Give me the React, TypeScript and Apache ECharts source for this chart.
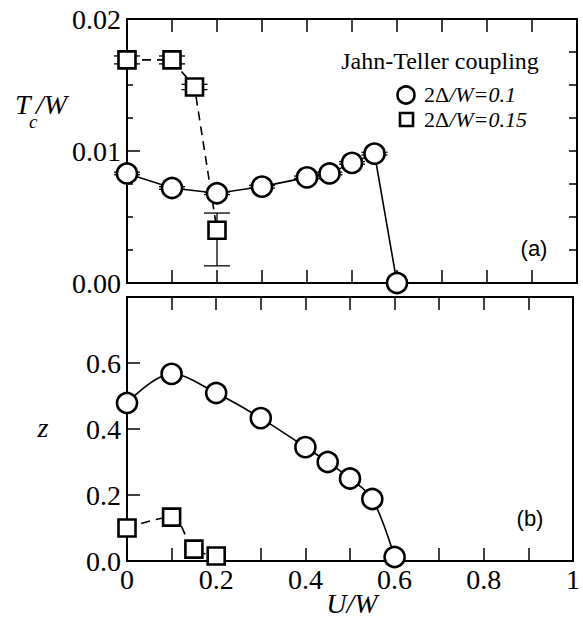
import React, { useEffect, useRef } from "react";
import * as echarts from "echarts";

// ---- data ----
const uCircle = [0, 0.1, 0.2, 0.3, 0.4, 0.45, 0.5, 0.55, 0.6];
const tcCircle = [0.0083, 0.0072, 0.0068, 0.0073, 0.008, 0.0083, 0.0091, 0.0098, 0.0];
const tcCircleErr = [0.0001, 0.0001, 0.0001, 0.0001, 0.0001, 0.0001, 0.0001, 0.0001, 0.0];

const uSquare = [0, 0.1, 0.15, 0.2];
const tcSquare = [0.0169, 0.0169, 0.01485, 0.004];
const tcSquareErrLow = [0.0003, 0.0003, 0.0002, 0.0027];
const tcSquareErrHigh = [0.0003, 0.0003, 0.0002, 0.0013];

const zCircle = [0.479, 0.567, 0.509, 0.433, 0.345, 0.3, 0.25, 0.188, 0.012];
const zSquare = [0.1, 0.133, 0.036, 0.015];

const legendNames = ["2Δ/W=0.1", "2Δ/W=0.15"];

const SERIF = "Liberation Serif, Times New Roman, serif";
const SANS = "Liberation Sans, Arial, sans-serif";

function pairs(xs: number[], ys: number[]) {
  return xs.map((x, i) => [x, ys[i]]);
}

function errBars(xs: number[], ys: number[], lo: number[], hi: number[]) {
  return xs.map((x, i) => [x, ys[i] - lo[i], ys[i] + hi[i]]);
}

function errRender(halfCap: number) {
  return (params: any, api: any) => {
    const x = api.value(0);
    const lo = api.value(1);
    const hi = api.value(2);
    const a = api.coord([x, lo]);
    const b = api.coord([x, hi]);
    const style = { stroke: "#000", lineWidth: 1.3 };
    return {
      type: "group",
      children: [
        { type: "line", shape: { x1: a[0], y1: a[1], x2: b[0], y2: b[1] }, style },
        { type: "line", shape: { x1: a[0] - halfCap, y1: a[1], x2: a[0] + halfCap, y2: a[1] }, style },
        { type: "line", shape: { x1: b[0] - halfCap, y1: b[1], x2: b[0] + halfCap, y2: b[1] }, style },
      ],
    };
  };
}

function txt(x: number, y: number, text: string, font: string, align: string = "center") {
  return {
    type: "text",
    x,
    y,
    style: {
      text,
      font,
      fill: "#000",
      align,
      verticalAlign: "middle",
      textAlign: align,
      textVerticalAlign: "middle",
    },
  };
}

export default function App() {
  const ref = useRef<HTMLDivElement>(null);

  useEffect(() => {
    if (!ref.current) return;
    const chart = echarts.init(ref.current, undefined, { renderer: "svg" });

    const axisLine = { show: true, lineStyle: { color: "#000", width: 2 } };
    const tickStyle = { color: "#000", width: 1.5 };
    const labelStyle = { color: "#000", fontFamily: SERIF, fontSize: 28 };

    const xCommon = (gridIndex: number, position: "top" | "bottom", labels: boolean) => ({
      type: "value",
      gridIndex,
      position,
      min: 0,
      max: 1,
      interval: 0.1,
      axisLine: { ...axisLine, onZero: false },
      axisTick: { show: true, inside: true, length: 13, lineStyle: tickStyle },
      splitLine: { show: false },
      axisLabel: labels
        ? {
            show: true,
            ...labelStyle,
            margin: 4,
            formatter: (v: number) => {
              const k = Math.round(v * 10);
              if (k % 2 !== 0) return "";
              if (k === 0) return "0";
              if (k === 10) return "1";
              return (k / 10).toFixed(1);
            },
          }
        : { show: false },
    });

    const markerStyle = { color: "#fff", borderColor: "#000", borderWidth: 2.6 };
    const richLegend = {
      u: { fontFamily: SERIF, fontSize: 22, fill: "#000" },
      i: { fontFamily: SERIF, fontStyle: "italic", fontSize: 22, fill: "#000" },
    };

    const option: any = {
      animation: false,
      backgroundColor: "#fff",
      grid: [
        { left: 127, top: 19, width: 450, height: 264, show: true, borderColor: "#000", borderWidth: 2, backgroundColor: "transparent" },
        { left: 127, top: 297, width: 450, height: 264, show: true, borderColor: "#000", borderWidth: 2, backgroundColor: "transparent" },
      ],
      xAxis: [
        xCommon(0, "bottom", false),
        xCommon(0, "top", false),
        xCommon(1, "bottom", true),
        xCommon(1, "top", false),
      ],
      yAxis: [
        {
          type: "value",
          gridIndex: 0,
          position: "left",
          min: 0,
          max: 0.02,
          interval: 0.01,
          axisLine: { ...axisLine, onZero: false },
          axisTick: { show: true, inside: true, length: 13, lineStyle: tickStyle },
          minorTick: { show: true, splitNumber: 4, length: 6, lineStyle: tickStyle },
          splitLine: { show: false },
          axisLabel: { ...labelStyle, margin: 6, formatter: (v: number) => v.toFixed(2) },
        },
        {
          type: "value",
          gridIndex: 0,
          position: "right",
          min: 0,
          max: 0.02,
          interval: 0.0025,
          axisLine: { ...axisLine, onZero: false },
          axisTick: { show: true, inside: true, length: 8, lineStyle: tickStyle },
          splitLine: { show: false },
          axisLabel: { show: false },
        },
        {
          type: "value",
          gridIndex: 1,
          position: "left",
          min: 0,
          max: 0.8,
          interval: 0.2,
          axisLine: { ...axisLine, onZero: false },
          axisTick: { show: true, inside: true, length: 13, lineStyle: tickStyle },
          splitLine: { show: false },
          axisLabel: {
            ...labelStyle,
            margin: 6,
            formatter: (v: number) => (v > 0.75 ? "" : v.toFixed(1)),
          },
        },
      ],
      series: [
        {
          type: "custom",
          name: legendNames[0] + " err",
          xAxisIndex: 0,
          yAxisIndex: 0,
          z: 1,
          renderItem: errRender(13),
          encode: { x: 0, y: [1, 2] },
          data: errBars(uCircle, tcCircle, tcCircleErr, tcCircleErr),
        },
        {
          type: "custom",
          name: legendNames[1] + " err",
          xAxisIndex: 0,
          yAxisIndex: 0,
          z: 1,
          renderItem: errRender(13),
          encode: { x: 0, y: [1, 2] },
          data: errBars(uSquare, tcSquare, tcSquareErrLow, tcSquareErrHigh),
        },
        {
          type: "line",
          name: legendNames[0],
          xAxisIndex: 0,
          yAxisIndex: 0,
          z: 3,
          symbol: "circle",
          symbolSize: 20,
          itemStyle: markerStyle,
          lineStyle: { color: "#000", width: 1.6 },
          data: pairs(uCircle, tcCircle),
        },
        {
          type: "line",
          name: legendNames[1],
          xAxisIndex: 0,
          yAxisIndex: 0,
          z: 3,
          symbol: "rect",
          symbolSize: 17,
          itemStyle: markerStyle,
          lineStyle: { color: "#000", width: 1.6, type: [9, 6] },
          data: pairs(uSquare, tcSquare),
        },
        {
          type: "line",
          name: legendNames[0],
          xAxisIndex: 2,
          yAxisIndex: 2,
          z: 3,
          smooth: 0.35,
          symbol: "circle",
          symbolSize: 20,
          itemStyle: markerStyle,
          lineStyle: { color: "#000", width: 1.6 },
          data: pairs(uCircle, zCircle),
        },
        {
          type: "line",
          name: legendNames[1],
          xAxisIndex: 2,
          yAxisIndex: 2,
          z: 3,
          smooth: 0.35,
          symbol: "rect",
          symbolSize: 17,
          itemStyle: markerStyle,
          lineStyle: { color: "#000", width: 1.6, type: [9, 6] },
          data: pairs(uSquare, zSquare),
        },
      ],
      graphic: [
        // axis titles
        txt(15, 104, "T", `italic 28px ${SERIF}`, "left"),
        txt(29, 121, "c", `italic 19px ${SERIF}`, "left"),
        txt(36, 104, "/W", `italic 28px ${SERIF}`, "left"),
        txt(43, 427, "z", `italic 28px ${SERIF}`),
        txt(352, 603, "U/W", `italic 28px ${SERIF}`),
        // legend
        txt(440, 61, "Jahn-Teller coupling", `24px ${SERIF}`),
        { type: "circle", shape: { cx: 406, cy: 95, r: 8.5 }, style: { fill: "#fff", stroke: "#000", lineWidth: 2.6 } },
        { type: "rect", shape: { x: 400, y: 113, width: 13, height: 13 }, style: { fill: "#fff", stroke: "#000", lineWidth: 2.6 } },
        {
          type: "text",
          x: 424,
          y: 94.5,
          style: {
            text: "{u|2Δ}{i|/W=0.1}",
            fill: "#000",
            align: "left",
            verticalAlign: "middle",
            textAlign: "left",
            textVerticalAlign: "middle",
            rich: richLegend,
          },
        },
        {
          type: "text",
          x: 424,
          y: 119.5,
          style: {
            text: "{u|2Δ}{i|/W=0.15}",
            fill: "#000",
            align: "left",
            verticalAlign: "middle",
            textAlign: "left",
            textVerticalAlign: "middle",
            rich: richLegend,
          },
        },
        // panel tags
        txt(534, 248, "(a)", `22px ${SANS}`),
        txt(530, 518, "(b)", `22px ${SANS}`),
      ],
    };

    chart.setOption(option);
    return () => chart.dispose();
  }, []);

  return (
    <div
      ref={ref}
      style={{ position: "absolute", left: 0, top: 0, width: 583, height: 618, background: "#fff" }}
    />
  );
}
